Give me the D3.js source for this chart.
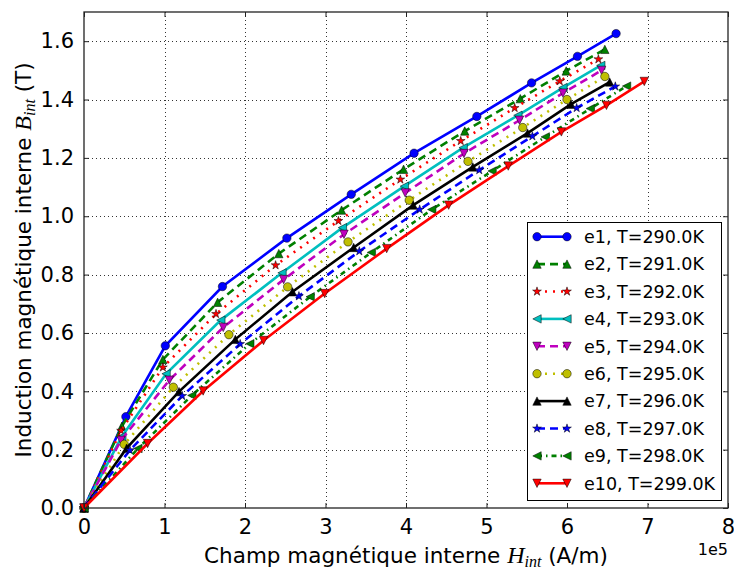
<!DOCTYPE html>
<html lang="fr">

<head>
    <meta charset="UTF-8">
    <script src="https://d3js.org/d3.v7.min.js"></script>
    <title>Induction interne</title>
    <style>
        body { margin: 0; background: #fff; }
        svg text { font-family: "DejaVu Sans", sans-serif; fill: #000; }
        .grid-line {
            stroke: #333;
            stroke-dasharray: 1, 3;
            stroke-width: 1px;
        }
        .math { font-family: "Liberation Serif", serif; font-style: italic; }
    </style>
</head>

<body>
    <div id="graph"></div>
    <script>
        // Data (H in units of 1e5 A/m, B in T)
        var series = ["e1", "e2", "e3", "e4", "e5", "e6", "e7", "e8", "e9", "e10"];
        var temps = [290, 291, 292, 293, 294, 295, 296, 297, 298, 299];

        var H1 = [0, 0.52, 1.01, 1.72, 2.52, 3.32, 4.10, 4.88, 5.56, 6.13, 6.61];
        var B1 = [0, 0.313, 0.556, 0.759, 0.925, 1.075, 1.216, 1.342, 1.457, 1.548, 1.626];
        var H2 = [0, 0.47, 0.98, 1.66, 2.42, 3.20, 3.97, 4.73, 5.42, 5.99, 6.47];
        var B2 = [0, 0.280, 0.509, 0.705, 0.872, 1.021, 1.161, 1.292, 1.403, 1.498, 1.572];
        var H3 = [0, 0.46, 0.98, 1.64, 2.38, 3.16, 3.93, 4.68, 5.35, 5.91, 6.39];
        var B3 = [0, 0.265, 0.482, 0.665, 0.832, 0.984, 1.126, 1.258, 1.371, 1.463, 1.538];
        var H4 = [0, 0.47, 1.02, 1.70, 2.46, 3.21, 3.98, 4.71, 5.39, 5.95, 6.42];
        var B4 = [0, 0.245, 0.460, 0.644, 0.806, 0.961, 1.103, 1.235, 1.346, 1.441, 1.517];
        var H5 = [0, 0.46, 1.06, 1.73, 2.48, 3.23, 3.99, 4.72, 5.41, 5.95, 6.43];
        var B5 = [0, 0.232, 0.438, 0.619, 0.783, 0.938, 1.080, 1.215, 1.329, 1.422, 1.500];
        var H6 = [0, 0.50, 1.11, 1.80, 2.53, 3.28, 4.04, 4.77, 5.45, 6.00, 6.47];
        var B6 = [0, 0.218, 0.414, 0.594, 0.758, 0.912, 1.055, 1.188, 1.304, 1.400, 1.479];
        var H7 = [0, 0.53, 1.18, 1.88, 2.59, 3.35, 4.09, 4.83, 5.51, 6.05, 6.53];
        var B7 = [0, 0.205, 0.399, 0.578, 0.741, 0.893, 1.038, 1.169, 1.285, 1.384, 1.460];
        var H8 = [0, 0.57, 1.22, 1.94, 2.67, 3.42, 4.17, 4.91, 5.57, 6.12, 6.60];
        var B8 = [0, 0.198, 0.384, 0.562, 0.726, 0.880, 1.023, 1.158, 1.274, 1.371, 1.445];
        var H9 = [0, 0.67, 1.34, 2.06, 2.81, 3.57, 4.32, 5.07, 5.73, 6.29, 6.74];
        var B9 = [0, 0.204, 0.386, 0.563, 0.724, 0.876, 1.023, 1.155, 1.272, 1.369, 1.446];
        var H10 = [0, 0.79, 1.48, 2.23, 2.99, 3.76, 4.53, 5.27, 5.93, 6.49, 6.96];
        var B10 = [0, 0.221, 0.401, 0.574, 0.735, 0.889, 1.038, 1.172, 1.289, 1.380, 1.462];

        var xTicks = [0, 1, 2, 3, 4, 5, 6, 7, 8];
        var yTicks = [0.0, 0.2, 0.4, 0.6, 0.8, 1.0, 1.2, 1.4, 1.6];

        var allH = [H1, H2, H3, H4, H5, H6, H7, H8, H9, H10];
        var allB = [B1, B2, B3, B4, B5, B6, B7, B8, B9, B10];

        // styles: colour, dash, marker
        var colors = ["#0000ff", "#008000", "#ff0000", "#00bfbf", "#bf00bf", "#bfbf00", "#000000", "#0000ff", "#008000", "#ff0000"];
        var dashes = [null, "8,5", "2,6", null, "8,5", "2,6", null, "8,5", "5,4,1.5,4", null];
        var markers = ["o", "^", "*", "<", "v", "o", "^", "*", "<", "v"];

        var width = 734, height = 570;
        var mLeft = 84, mRight = 728, mTop = 12, mBottom = 508;

        var svg = d3.select("#graph")
            .append("svg")
            .attr("width", width)
            .attr("height", height);

        var x = d3.scaleLinear().domain([0, 8]).range([mLeft, mRight]);
        var y = d3.scaleLinear().domain([0, 1.7]).range([mBottom, mTop]);

        // grid
        svg.append("g")
            .selectAll("line")
            .data(yTicks.slice(1))
            .enter().append("line")
            .attr("class", "grid-line")
            .attr("x1", mLeft).attr("x2", mRight)
            .attr("y1", function (d) { return Math.round(y(d)) + 0.5; })
            .attr("y2", function (d) { return Math.round(y(d)) + 0.5; });

        svg.append("g")
            .selectAll("line")
            .data(xTicks.slice(1, -1))
            .enter().append("line")
            .attr("class", "grid-line")
            .attr("y1", mTop).attr("y2", mBottom)
            .attr("x1", function (d) { return Math.round(x(d)) + 0.5; })
            .attr("x2", function (d) { return Math.round(x(d)) + 0.5; });

        function markerPath(type, s) {
            if (type === "o") return d3.symbol(d3.symbolCircle, Math.PI * s * s)();
            if (type === "^") return "M0," + (-s) + "L" + s + "," + s + "L" + (-s) + "," + s + "Z";
            if (type === "v") return "M0," + s + "L" + s + "," + (-s) + "L" + (-s) + "," + (-s) + "Z";
            if (type === "<") return "M" + (-s) + ",0L" + s + "," + (-s) + "L" + s + "," + s + "Z";
            // star
            var pts = [];
            for (var i = 0; i < 10; i++) {
                var r = i % 2 === 0 ? s * 1.1 : s * 1.1 * 0.382;
                var a = -Math.PI / 2 + i * Math.PI / 5;
                pts.push([r * Math.cos(a), r * Math.sin(a)]);
            }
            return "M" + pts.join("L") + "Z";
        }

        var line = d3.line()
            .x(function (d) { return x(d[0]); })
            .y(function (d) { return y(d[1]); });

        var plot = svg.append("g");

        series.forEach(function (name, i) {
            var pts = allH[i].map(function (h, j) { return [h, allB[i][j]]; });
            var g = plot.append("g");
            g.append("path")
                .datum(pts)
                .attr("d", line)
                .attr("fill", "none")
                .attr("stroke", colors[i])
                .attr("stroke-width", 2.6)
                .attr("stroke-dasharray", dashes[i]);
            g.selectAll("path.mk")
                .data(pts)
                .enter().append("path")
                .attr("class", "mk")
                .attr("d", markerPath(markers[i], 4.2))
                .attr("transform", function (d) { return "translate(" + x(d[0]) + "," + y(d[1]) + ")"; })
                .attr("fill", colors[i])
                .attr("stroke", "#000")
                .attr("stroke-width", 0.5);
        });

        // frame and ticks (inside, all four sides)
        svg.append("rect")
            .attr("x", mLeft).attr("y", mTop)
            .attr("width", mRight - mLeft).attr("height", mBottom - mTop)
            .attr("fill", "none")
            .attr("stroke", "#222")
            .attr("stroke-width", 1.3);

        var xAxis = d3.axisBottom(x).tickValues(xTicks).tickSizeInner(-5).tickSizeOuter(0).tickPadding(11)
            .tickFormat(d3.format("d"));
        var yAxis = d3.axisLeft(y).tickValues(yTicks).tickSizeInner(-5).tickSizeOuter(0).tickPadding(10)
            .tickFormat(d3.format(".1f"));

        var gx = svg.append("g").attr("transform", "translate(0," + mBottom + ")").call(xAxis);
        var gy = svg.append("g").attr("transform", "translate(" + mLeft + ",0)").call(yAxis);
        var gx2 = svg.append("g").attr("transform", "translate(0," + mTop + ")")
            .call(d3.axisTop(x).tickValues(xTicks).tickSizeInner(-5).tickSizeOuter(0).tickFormat(""));
        var gy2 = svg.append("g").attr("transform", "translate(" + mRight + ",0)")
            .call(d3.axisRight(y).tickValues(yTicks).tickSizeInner(-5).tickSizeOuter(0).tickFormat(""));

        [gx, gy, gx2, gy2].forEach(function (g) {
            g.select(".domain").remove();
            g.selectAll("line").attr("stroke", "#222").attr("stroke-width", 1);
            g.selectAll("text").style("font-size", "21px").attr("font-family", "DejaVu Sans");
        });
        gx.selectAll("text").attr("dy", "0.71em");

        // offset text
        svg.append("text")
            .attr("x", mRight)
            .attr("y", 555)
            .attr("text-anchor", "end")
            .style("font-size", "16px")
            .text("1e5");

        // axis titles
        var xl = svg.append("text")
            .attr("x", (mLeft + mRight) / 2)
            .attr("y", 563)
            .attr("text-anchor", "middle")
            .style("font-size", "21.5px");
        xl.append("tspan").text("Champ magnétique interne ");
        xl.append("tspan").attr("class", "math").style("font-size", "24px").text("H");
        xl.append("tspan").attr("class", "math").style("font-size", "16px").attr("dy", 4).text("int");
        xl.append("tspan").attr("dy", -4).text(" (A/m)");

        var yl = svg.append("text")
            .attr("transform", "translate(31," + ((mTop + mBottom) / 2) + ") rotate(-90)")
            .attr("text-anchor", "middle")
            .style("font-size", "21.5px");
        yl.append("tspan").text("Induction magnétique interne ");
        yl.append("tspan").attr("class", "math").style("font-size", "24px").text("B");
        yl.append("tspan").attr("class", "math").style("font-size", "16px").attr("dy", 4).text("int");
        yl.append("tspan").attr("dy", -4).text(" (T)");

        // legend
        var lg = svg.append("g");
        lg.append("rect")
            .attr("x", 527.5).attr("y", 222.5)
            .attr("width", 194).attr("height", 278)
            .attr("fill", "#fff")
            .attr("stroke", "#000")
            .attr("stroke-width", 1);

        series.forEach(function (name, i) {
            var cy = 236.7 + i * 27.4;
            var row = lg.append("g");
            row.append("line")
                .attr("x1", 537).attr("x2", 567)
                .attr("y1", cy).attr("y2", cy)
                .attr("stroke", colors[i])
                .attr("stroke-width", 2.6)
                .attr("stroke-dasharray", dashes[i]);
            [537, 567].forEach(function (mx) {
                row.append("path")
                    .attr("d", markerPath(markers[i], 4.2))
                    .attr("transform", "translate(" + mx + "," + cy + ")")
                    .attr("fill", colors[i])
                    .attr("stroke", "#000")
                    .attr("stroke-width", 0.5);
            });
            row.append("text")
                .attr("x", 584)
                .attr("y", cy)
                .attr("dy", "0.36em")
                .style("font-size", "17.5px")
                .text(name + ", T=" + temps[i].toFixed(1) + "K");
        });
    </script>
</body>

</html>
